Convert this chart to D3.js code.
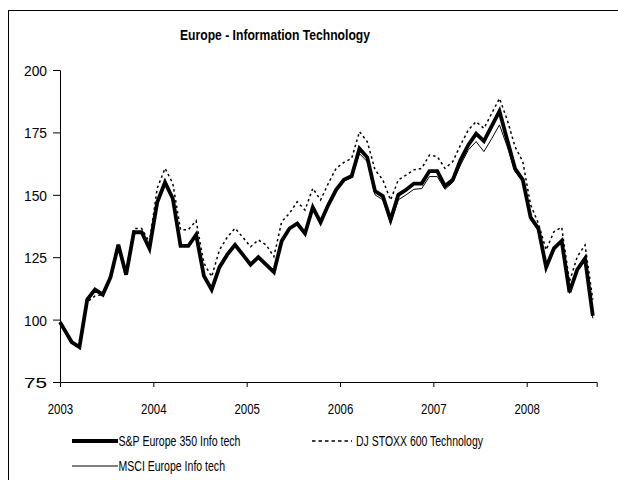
<!DOCTYPE html>
<meta charset="utf-8">
<script src="https://cdn.jsdelivr.net/npm/d3@7"></script>
<style>
body { margin: 0; background: #fff; }
text { font-family: "Liberation Sans", Arial, sans-serif; fill: #000; }
</style>
<body>
<script>
// month offsets from Jan 2003 (first point at the axis start, then mid-month)
var months = [0].concat(d3.range(1.5, 69, 1));

var spEurope = [99, 91, 89, 108, 112, 110, 117, 130, 118, 135, 135, 128.5,
  147, 155, 148.5, 129.5, 129.5, 134, 117.5, 112, 121, 126, 130, 126,
  122, 125, 122, 119, 131.5, 136.5, 138.5, 134.5, 145, 139, 146, 152,
  156, 157.5, 168.5, 165, 151.5, 149.5, 140, 150, 152, 154.5, 154.5, 159.5,
  159.5, 153.5, 156, 164, 170, 174.5, 171.5, 177.5, 183.5, 172, 160.5, 156,
  141, 136.5, 121, 128.5, 131.5, 111, 120, 124.5, 101.5];

var msciEurope = [99, 91, 89, 108, 112, 110, 117, 130, 118, 135, 135, 128.5,
  147, 155, 148.5, 129.5, 129.5, 134, 117.5, 112, 121, 126, 130, 126,
  122, 125, 122, 119, 131.5, 136.5, 138.5, 134.5, 145, 139, 146, 151.5,
  155.5, 157, 166.5, 163.3, 150, 148, 138.5, 148, 150, 152.2, 152.5, 157.3,
  157.3, 152.2, 155, 162, 168, 171.3, 167.3, 172.5, 178, 169.3, 159.3, 155.5,
  140, 135.5, 120.5, 128, 131, 110.5, 119.5, 123.5, 100.5];

var djStoxx = [99, 90.5, 88.5, 107, 109.5, 110, 117.5, 129, 119, 136.5, 136.5, 131,
  152.6, 160.6, 154.6, 136, 136, 139.6, 122.6, 117.2, 127.9, 133, 136.6, 133,
  129.2, 131.9, 129.9, 125.2, 139.2, 142.6, 147.2, 143.9, 152.6, 147.9, 154.6, 160.6,
  163, 164.6, 175.3, 171.3, 160, 156, 147.9, 156, 157.9, 160, 160.6, 165.9,
  165.3, 160.6, 163.3, 170, 176, 179.3, 176.6, 182.6, 188.6, 180, 169.3, 163.3,
  146, 138.6, 127.9, 135.2, 137, 115.2, 125.2, 129.9, 108];

var yTicks = [75, 100, 125, 150, 175, 200];
var yearTicks = [0, 12, 24, 36, 48, 60];
var yearLabels = ["2003", "2004", "2005", "2006", "2007", "2008"];

var margin = {top: 70, left: 60},
    width = 536.7,
    height = 312;

var svg = d3.select("body").append("svg")
    .attr("width", 618)
    .attr("height", 480);

// outer chart frame (runs off the right and bottom of the picture)
svg.append("rect")
    .attr("x", 8.5).attr("y", 10.5)
    .attr("width", 700).attr("height", 600)
    .attr("fill", "none")
    .attr("stroke", "#000")
    .attr("stroke-width", 1);

var g = svg.append("g")
    .attr("transform", "translate(" + margin.left + "," + margin.top + ")");

var x = d3.scaleLinear().domain([0, 69]).range([0, width]);
var y = d3.scaleLinear().domain([75, 200]).range([height, 0]);

var xAxis = d3.axisBottom(x)
    .tickValues(yearTicks)
    .tickSize(5)
    .tickFormat(function(d, i) { return yearLabels[i]; });

var yAxis = d3.axisLeft(y)
    .tickValues(yTicks)
    .tickSize(7)
    .tickPadding(6);

var gx = g.append("g")
    .attr("transform", "translate(0," + height + ")")
    .call(xAxis);

var gy = g.append("g").call(yAxis);

[gx, gy].forEach(function(a) {
  a.attr("font-family", null).attr("font-size", null);
  a.select(".domain").attr("stroke", "#000");
  a.selectAll(".tick line").attr("stroke", "#000");
});

// narrow-looking tick labels
gx.selectAll(".tick text")
    .attr("y", 32).attr("dy", null)
    .style("font-size", "15px")
    .attr("textLength", 25.5)
    .attr("lengthAdjust", "spacingAndGlyphs");

gy.selectAll(".tick text")
    .attr("dy", "0.36em")
    .style("font-size", "15px")
    .attr("textLength", 23)
    .attr("lengthAdjust", "spacingAndGlyphs");

var line = function(vals) {
  return d3.line()
    .x(function(d, i) { return x(months[i]); })
    .y(function(d) { return y(d); })(vals);
};

g.append("path")
    .attr("d", line(djStoxx))
    .attr("fill", "none")
    .attr("stroke", "#000")
    .attr("stroke-width", 1.5)
    .attr("stroke-dasharray", "2.5,3");

g.append("path")
    .attr("d", line(spEurope))
    .attr("fill", "none")
    .attr("stroke", "#000")
    .attr("stroke-width", 3.8);

g.append("path")
    .attr("d", line(msciEurope))
    .attr("fill", "none")
    .attr("stroke", "#000")
    .attr("stroke-width", 1);

svg.append("text")
    .attr("x", 180)
    .attr("y", 40)
    .style("font-weight", "bold")
    .style("font-size", "15px")
    .attr("textLength", 190)
    .attr("lengthAdjust", "spacingAndGlyphs")
    .text("Europe - Information Technology");

// legend
var legendItems = [
  {name: "S&P Europe 350 Info tech", x: 72, y: 441, w: 3.8, dash: null, len: 122},
  {name: "DJ STOXX 600 Technology", x: 312, y: 441, w: 1.5, dash: "3.5,3", len: 127},
  {name: "MSCI Europe Info tech", x: 72, y: 466, w: 1, dash: null, len: 106.5}
];

var legend = svg.selectAll(".legend")
    .data(legendItems)
    .enter().append("g")
    .attr("class", "legend")
    .attr("transform", function(d) { return "translate(" + d.x + "," + d.y + ")"; });

legend.append("line")
    .attr("x1", 0).attr("x2", function(d) { return d.dash ? 40 : 46; })
    .attr("y1", 0).attr("y2", 0)
    .attr("stroke", "#000")
    .attr("stroke-width", function(d) { return d.w; })
    .attr("stroke-dasharray", function(d) { return d.dash; });

legend.append("text")
    .attr("x", function(d) { return d.dash ? 44 : 46.5; })
    .attr("y", 5)
    .style("font-size", "14px")
    .attr("textLength", function(d) { return d.len; })
    .attr("lengthAdjust", "spacingAndGlyphs")
    .text(function(d) { return d.name; });
</script>
</body>
</html>
